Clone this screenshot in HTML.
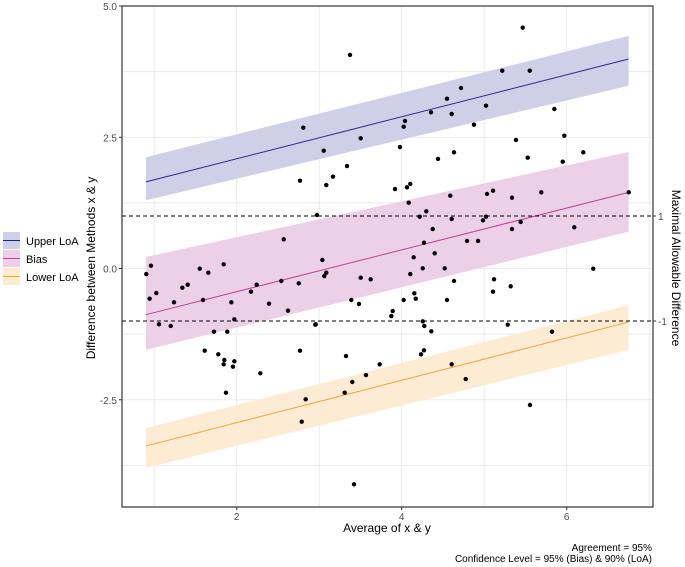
<!DOCTYPE html>
<html><head><meta charset="utf-8">
<style>
body{margin:0;background:#fff;}
svg{display:block;font-family:"Liberation Sans",Arial,sans-serif;}
</style></head>
<body>
<svg id="chart" width="685" height="567" viewBox="0 0 685 567">
<g id="grid"></g>
<g id="bands"></g>
<g id="lines"></g>
<g id="dashed"></g>
<g id="pts"></g>
<g id="axes"></g>
<text x="95" y="268" transform="rotate(-90 95 268)" text-anchor="middle" font-size="12" fill="#000">Difference between Methods x &amp; y</text>
<text x="387" y="532" text-anchor="middle" font-size="12" fill="#000">Average of x &amp; y</text>
<text x="672" y="268" transform="rotate(90 672 268)" text-anchor="middle" font-size="12" fill="#000">Maximal Allowable Difference</text>
<text x="652" y="551" text-anchor="end" font-size="10" fill="#000">Agreement = 95%</text>
<text x="652" y="562" text-anchor="end" font-size="10" fill="#000">Confidence Level = 95% (Bias) &amp; 90% (LoA)</text>
<g>
<rect x="3" y="232" width="17" height="17" fill="#d0d0e8"/>
<line x1="3" y1="240.5" x2="20" y2="240.5" stroke="#1f1f8f"/>
<text x="26" y="245" font-size="11">Upper LoA</text>
<rect x="3" y="250" width="17" height="17" fill="#ecd0e8"/>
<line x1="3" y1="258.5" x2="20" y2="258.5" stroke="#c0409a"/>
<text x="26" y="263" font-size="11">Bias</text>
<rect x="3" y="268" width="17" height="17" fill="#fdebd3"/>
<line x1="3" y1="276.5" x2="20" y2="276.5" stroke="#f5a623"/>
<text x="26" y="281" font-size="11">Lower LoA</text>
</g>
</svg>
<script>
const xs=[0.904,0.961,0.945,1.025,1.058,1.2,1.24,1.341,1.406,1.552,1.592,1.656,1.612,1.725,1.777,1.842,1.85,1.842,1.87,1.886,1.935,1.971,1.971,1.955,2.173,2.242,2.286,2.392,2.541,2.57,2.622,2.752,2.767,2.767,2.836,2.788,2.958,2.973,3.309,3.373,2.807,3.055,3.503,3.086,3.167,3.337,3.038,3.979,3.919,4.064,4.104,4.085,4.024,4.04,4.355,4.549,4.606,4.719,4.876,5.022,4.44,4.634,4.589,4.218,4.298,4.606,4.376,4.27,4.145,4.4,4.255,4.521,4.792,4.925,4.985,5.022,5.034,5.107,3.062,3.086,3.503,3.624,3.389,3.482,2.953,3.891,3.874,4.024,4.104,4.153,4.17,4.255,4.274,4.359,4.27,4.234,4.634,4.549,3.325,3.733,4.606,3.567,3.401,4.776,3.422,5.119,5.107,5.467,5.219,5.552,5.85,5.385,5.971,5.527,5.952,6.201,5.337,5.692,6.752,5.442,5.337,6.092,6.322,5.321,5.285,5.822,5.555];
const ys=[-0.105,0.053,-0.575,-0.467,-1.063,-1.095,-0.644,-0.366,-0.309,-0.004,-0.6,-0.08,-1.566,-1.204,-1.634,0.08,-1.743,-1.825,-2.366,-1.204,-0.644,-0.968,-1.768,-1.87,-0.442,-0.309,-1.996,-0.67,-0.238,0.556,-0.804,-0.282,1.672,-1.566,-2.491,-2.918,-1.063,1.019,-2.366,4.067,2.682,2.244,2.48,1.59,1.749,1.952,0.162,2.314,1.514,1.547,1.61,1.253,2.701,2.81,2.975,3.234,2.943,3.438,2.739,3.101,2.086,2.213,1.387,0.987,1.09,0.943,0.752,0.491,0.213,0.29,0.004,0.004,0.524,0.524,0.918,0.987,1.419,1.482,-0.143,-0.08,-0.175,-0.206,-0.6,-0.676,-1.07,-0.81,-0.905,-0.6,-0.105,-0.472,-0.575,-1.006,-1.095,-1.196,-1.558,-1.634,-0.238,-0.6,-1.667,-1.825,-1.825,-2.029,-2.162,-2.105,-4.11,-0.206,-0.442,4.587,3.768,3.768,3.038,2.448,2.53,2.11,2.034,2.213,1.349,1.451,1.451,0.886,0.752,0.785,-0.004,-0.339,-1.07,-1.204,-2.6];
// line endpoints [x0,x1] and [y0,y1], band lower/upper at ends
const lineX=[0.9,6.75];
const upperLine=[1.65,3.99];
const upperBandLo=[1.3,3.48];
const upperBandHi=[2.12,4.43];
const biasLine=[-0.88,1.45];
const biasBandLo=[-1.55,0.7];
const biasBandHi=[0.22,2.22];
const lowerLine=[-3.38,-1.02];
const lowerBandLo=[-3.8,-1.55];
const lowerBandHi=[-3.04,-0.7];
const maxDiff=[1,-1];
const xTicks=[2,4,6];
const xMinor=[1,3,5,7];
const yTicks=[5,2.5,0,-2.5];
const yTickLabels=["5.0","2.5","0.0","-2.5"];
const yMinor=[3.75,1.25,-1.25,-3.75];

const L=122,R=653,T=6,B=507;
const X=v=>236.7+82.5*(v-2);
const Y=v=>268.5-52.5*v;
const NS="http://www.w3.org/2000/svg";
function mk(tag,parent,attrs){const e=document.createElementNS(NS,tag);for(const k in attrs)e.setAttribute(k,attrs[k]);document.getElementById(parent).appendChild(e);return e;}

const grid='grid';
xMinor.concat(xTicks).forEach(v=>{if(X(v)>L&&X(v)<R){const e=mk('line',grid,{x1:X(v),x2:X(v),y1:T,y2:B,stroke:'#ebebeb','stroke-width':1});

}});
yMinor.concat(yTicks).forEach(v=>{const e=mk('line',grid,{x1:L,x2:R,y1:Y(v),y2:Y(v),stroke:'#ebebeb','stroke-width':1});

});

function band(lo,hi,fill,name){const p=`${X(lineX[0])},${Y(lo[0])} ${X(lineX[1])},${Y(lo[1])} ${X(lineX[1])},${Y(hi[1])} ${X(lineX[0])},${Y(hi[0])}`;
const e=mk('polygon','bands',{points:p,fill:fill});

}
band(upperBandLo,upperBandHi,'#cfcfe7','upper-loa-band');
band(biasBandLo,biasBandHi,'#ecd0e8','bias-band');
band(lowerBandLo,lowerBandHi,'#fdebd3','lower-loa-band');
function ln(v,col,name){const e=mk('line','lines',{x1:X(lineX[0]),y1:Y(v[0]),x2:X(lineX[1]),y2:Y(v[1]),stroke:col,'stroke-width':1});

}
ln(upperLine,'#2a2a8f','upper-loa-line');
ln(biasLine,'#c0409a','bias-line');
ln(lowerLine,'#f5a030','lower-loa-line');
maxDiff.forEach(v=>{const e=mk('line','dashed',{x1:L,x2:R,y1:Y(v),y2:Y(v),stroke:'#000','stroke-width':1,'stroke-dasharray':'4,3'});


const t=mk('line','axes',{x1:R,x2:R+3,y1:Y(v),y2:Y(v),stroke:'#333'});


const l=mk('text','axes',{x:R+5,y:Y(v)+4,'font-size':10,fill:'#4d4d4d'});l.textContent=String(v);

});

xs.forEach((x,i)=>{const e=mk('circle','pts',{cx:X(x),cy:Y(ys[i]),r:2.2,fill:'#000'});

});

const fr=mk('rect','axes',{x:L,y:T,width:R-L,height:B-T,fill:'none',stroke:'#333','stroke-width':1.2});


xTicks.forEach(v=>{const t=mk('line','axes',{x1:X(v),x2:X(v),y1:B,y2:B+3,stroke:'#333'});


const l=mk('text','axes',{x:X(v),y:B+13,'font-size':10,fill:'#4d4d4d','text-anchor':'middle'});l.textContent=String(v);

});
yTicks.forEach((v,i)=>{const t=mk('line','axes',{x1:L-3,x2:L,y1:Y(v),y2:Y(v),stroke:'#333'});


const l=mk('text','axes',{x:L-5,y:Y(v)+4,'font-size':10,fill:'#4d4d4d','text-anchor':'end'});l.textContent=yTickLabels[i];

});
</script>
</body></html>
